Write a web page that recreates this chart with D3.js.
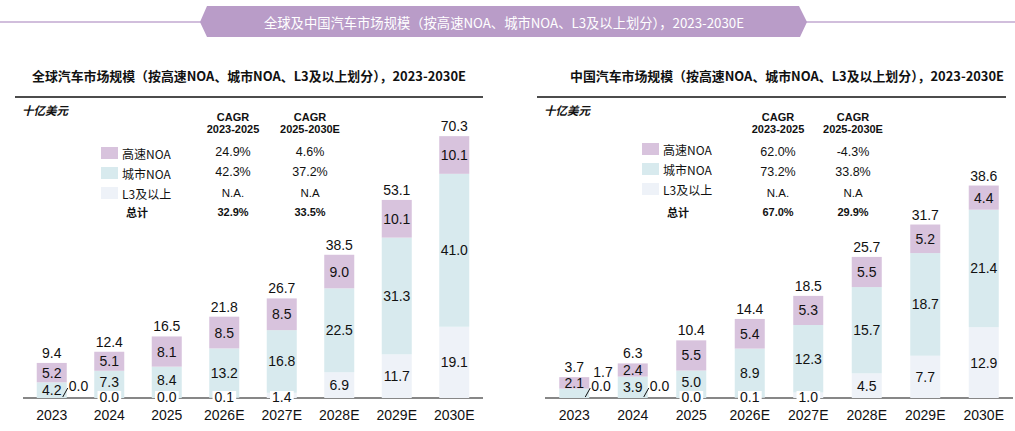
<!doctype html>
<html lang="zh">
<head>
  <meta charset="utf-8">
  <title>chart</title>
  <style>
  body { margin: 0; background: #fff; }
  svg { display: block; }
  .num { font-family: "Liberation Sans", Arial, sans-serif; fill: #111; }
  .cjk { font-family: "Noto Sans CJK SC", sans-serif; fill: #111; }
  </style>
</head>
<body>
<div id="chart"></div>
<script src="https://cdnjs.cloudflare.com/ajax/libs/d3/7.8.5/d3.min.js"></script>
<script>

// ---------------- data
var years = ["2023", "2024", "2025", "2026E", "2027E", "2028E", "2029E", "2030E"];
var seriesNames = ["L3及以上", "城市NOA", "高速NOA"];

var globalL3   = [0.0, 0.0, 0.0, 0.1, 1.4, 6.9, 11.7, 19.1];
var globalCity = [4.2, 7.3, 8.4, 13.2, 16.8, 22.5, 31.3, 41.0];
var globalHwy  = [5.2, 5.1, 8.1, 8.5, 8.5, 9.0, 10.1, 10.1];
var globalTotal = [9.4, 12.4, 16.5, 21.8, 26.7, 38.5, 53.1, 70.3];

var chinaL3   = [0.0, 0.0, 0.0, 0.1, 1.0, 4.5, 7.7, 12.9];
var chinaCity = [1.7, 3.9, 5.0, 8.9, 12.3, 15.7, 18.7, 21.4];
var chinaHwy  = [2.1, 2.4, 5.5, 5.4, 5.3, 5.5, 5.2, 4.4];
var chinaTotal = [3.7, 6.3, 10.4, 14.4, 18.5, 25.7, 31.7, 38.6];

var cagrHeaders = ["2023-2025", "2025-2030E"];
var globalCagr1 = ["24.9%", "42.3%", "N.A.", "32.9%"];   // hwy, city, L3, total
var globalCagr2 = ["4.6%", "37.2%", "N.A", "33.5%"];
var chinaCagr1 = ["62.0%", "73.2%", "N.A.", "67.0%"];
var chinaCagr2 = ["-4.3%", "33.8%", "N.A", "29.9%"];

var bannerTitle = "全球及中国汽车市场规模（按高速NOA、城市NOA、L3及以上划分），2023-2030E";
var globalTitle = "全球汽车市场规模（按高速NOA、城市NOA、L3及以上划分），2023-2030E";
var chinaTitle = "中国汽车市场规模（按高速NOA、城市NOA、L3及以上划分），2023-2030E";
var unitLabel = "十亿美元";

// ---------------- setup
var width = 1015, height = 431;
var colors = {"高速NOA": "#d8c3dd", "城市NOA": "#d8eaee", "L3及以上": "#eef2f8"};

var svg = d3.select("#chart").append("svg")
    .attr("width", width)
    .attr("height", height);

// banner
svg.append("line")
    .attr("x1", 0).attr("x2", width).attr("y1", 22).attr("y2", 22)
    .attr("stroke", "#c2a8d0").attr("stroke-width", 1.5);
svg.append("polygon")
    .attr("points", "200,22 207,6 799,6 807,22 800,37 207,37")
    .attr("fill", "#b99cc8");
svg.append("text")
    .attr("class", "cjk")
    .attr("x", 504).attr("y", 22)
    .attr("text-anchor", "middle")
    .attr("dominant-baseline", "central")
    .attr("font-size", "13.3px")
    .style("fill", "#fff")
    .text(bannerTitle);

function drawPanel(opt) {
  var g = svg.append("g");
  var baseline = 398;

  g.append("text")
      .attr("class", "cjk")
      .attr("x", opt.titleX).attr("y", 75)
      .attr("dominant-baseline", "central")
      .attr("font-size", "12.9px")
      .attr("font-weight", "bold")
      .text(opt.title);

  g.append("line")
      .attr("x1", opt.ruleX[0]).attr("x2", opt.ruleX[1])
      .attr("y1", 97).attr("y2", 97)
      .attr("stroke", "#111").attr("stroke-width", 1.5);

  g.append("text")
      .attr("class", "cjk")
      .attr("x", opt.ruleX[0] + 7).attr("y", 110)
      .attr("dominant-baseline", "central")
      .attr("font-size", "11.5px")
      .attr("font-style", "italic")
      .attr("font-weight", "bold")
      .text(unitLabel);

  // --- scales
  var x = d3.scaleBand().domain(years).range(opt.axisX)
      .paddingInner(opt.pad).paddingOuter(opt.pad / 2);
  var y = d3.scaleLinear().domain([0, opt.yMax]).range([baseline, baseline - opt.yMax * opt.pxPerUnit]);

  var table = years.map(function(yr, i) {
    return {year: yr, "L3及以上": opt.l3[i], "城市NOA": opt.city[i], "高速NOA": opt.hwy[i]};
  });
  var stacked = d3.stack().keys(seriesNames)(table);

  // axis line + labels
  var axis = g.append("g")
      .attr("transform", "translate(0," + baseline + ")")
      .call(d3.axisBottom(x).tickSize(0).tickPadding(12));
  axis.select(".domain").attr("stroke", "#111").attr("stroke-width", 1.2)
      .attr("d", "M" + opt.axisX[0] + ",0H" + opt.axisX[1]);
  axis.selectAll("text")
      .attr("class", "num")
      .attr("font-size", "14px")
      .attr("fill", "#111");

  // bars
  var layers = g.selectAll(".layer").data(stacked).enter()
      .append("g").attr("class", "layer")
      .attr("fill", function(d) { return colors[d.key]; });
  layers.selectAll("rect").data(function(d) { return d; }).enter()
      .append("rect")
      .attr("x", function(d) { return x(d.data.year); })
      .attr("width", x.bandwidth())
      .attr("y", function(d) { return y(d[1]); })
      .attr("height", function(d) { return y(d[0]) - y(d[1]); });

  // segment labels
  var labels = g.append("g");
  var boxed = {};
  stacked.forEach(function(layer, li) {
    layer.forEach(function(d, i) {
      var h = y(d[0]) - y(d[1]);
      var val = d[1] - d[0];
      var cx = x(d.data.year) + x.bandwidth() / 2;
      var right = x(d.data.year) + x.bandwidth();
      var txt = val.toFixed(1);
      if (h >= 10) {
        // nudge up a little when a boxed label sits just below
        var dy = (layer.key === "城市NOA" && boxed[i] && h < 36) ? -2 : 0;
        labels.append("text").attr("class", "num")
            .attr("x", cx).attr("y", (y(d[0]) + y(d[1])) / 2 + dy)
            .attr("text-anchor", "middle").attr("dominant-baseline", "central")
            .attr("font-size", "14px").text(txt);
      } else if (layer.key === "L3及以上") {
        var cityH = y(0) - y(d.data["城市NOA"]);
        if (cityH >= 24) {
          boxed[i] = true;
          var t = labels.append("text").attr("class", "num")
              .attr("x", cx).attr("y", baseline - 1)
              .attr("text-anchor", "middle").attr("dominant-baseline", "central")
              .attr("font-size", "14px").text(txt);
          var bb = t.node().getBBox();
          labels.insert("rect", function() { return t.node(); })
              .attr("x", bb.x - 2).attr("y", bb.y + 2)
              .attr("width", bb.width + 4).attr("height", bb.height - 3)
              .attr("fill", "#fff");
        } else {
          labels.append("line")
              .attr("x1", right - 4).attr("y1", baseline - 1)
              .attr("x2", right + 1).attr("y2", baseline - 10)
              .attr("stroke", "#111").attr("stroke-width", 1);
          labels.append("text").attr("class", "num")
              .attr("x", right + 2).attr("y", baseline - 12)
              .attr("dominant-baseline", "central")
              .attr("font-size", "14px").text(txt);
        }
      } else {
        labels.append("text").attr("class", "num")
            .attr("x", right + 4).attr("y", baseline - 26)
            .attr("dominant-baseline", "central")
            .attr("font-size", "14px").text(txt);
      }
    });
  });

  // totals
  var top = stacked[stacked.length - 1];
  g.append("g").selectAll("text").data(top).enter()
      .append("text").attr("class", "num")
      .attr("x", function(d) { return x(d.data.year) + x.bandwidth() / 2; })
      .attr("y", function(d) { return y(d[1]) - 5; })
      .attr("text-anchor", "middle")
      .attr("font-size", "14px")
      .text(function(d, i) { return opt.total[i].toFixed(1); });

  // legend / CAGR table
  var lx = opt.legendX, rows = [152, 172, 192, 212];
  [opt.cagr1, opt.cagr2].forEach(function(col, ci) {
    var cx = opt.cagrX[ci];
    g.append("text").attr("class", "num").attr("x", cx).attr("y", 117)
        .attr("text-anchor", "middle").attr("dominant-baseline", "central")
        .attr("font-size", "11px").attr("font-weight", "bold").text("CAGR");
    g.append("text").attr("class", "num").attr("x", cx).attr("y", 129)
        .attr("text-anchor", "middle").attr("dominant-baseline", "central")
        .attr("font-size", "11px").attr("font-weight", "bold").text(cagrHeaders[ci]);
    col.forEach(function(v, ri) {
      g.append("text").attr("class", "num").attr("x", cx).attr("y", rows[ri] + (ri === 2 ? 1 : 0))
          .attr("text-anchor", "middle").attr("dominant-baseline", "central")
          .attr("font-size", ri === 3 ? "11px" : ri === 2 ? "11.5px" : "12.5px")
          .attr("font-weight", ri === 3 ? "bold" : "normal")
          .text(v);
    });
  });
  ["高速NOA", "城市NOA", "L3及以上"].forEach(function(name, ri) {
    g.append("rect").attr("x", lx).attr("y", rows[ri] - 6 + opt.legendDy)
        .attr("width", 17).attr("height", 12).attr("fill", colors[name]);
    g.append("text").attr("class", "cjk").attr("x", lx + 21).attr("y", rows[ri] + opt.legendDy)
        .attr("dominant-baseline", "central")
        .attr("font-size", "12px").text(name);
  });
  g.append("text").attr("class", "cjk").attr("x", lx + 36).attr("y", rows[3])
      .attr("text-anchor", "middle").attr("dominant-baseline", "central")
      .attr("font-size", "11px").attr("font-weight", "bold").text("总计");
}

drawPanel({
  title: globalTitle, titleX: 32, ruleX: [15, 483], axisX: [23, 483], pad: 0.478,
  yMax: 75, pxPerUnit: 3.73,
  l3: globalL3, city: globalCity, hwy: globalHwy, total: globalTotal,
  cagr1: globalCagr1, cagr2: globalCagr2, cagrX: [233, 310],
  legendX: 101, legendDy: 1
});

drawPanel({
  title: chinaTitle, titleX: 570, ruleX: [537, 1006], axisX: [545, 1013], pad: 0.487,
  yMax: 40, pxPerUnit: 5.49,
  l3: chinaL3, city: chinaCity, hwy: chinaHwy, total: chinaTotal,
  cagr1: chinaCagr1, cagr2: chinaCagr2, cagrX: [778, 853],
  legendX: 642, legendDy: -3
});

</script>
</body>
</html>
